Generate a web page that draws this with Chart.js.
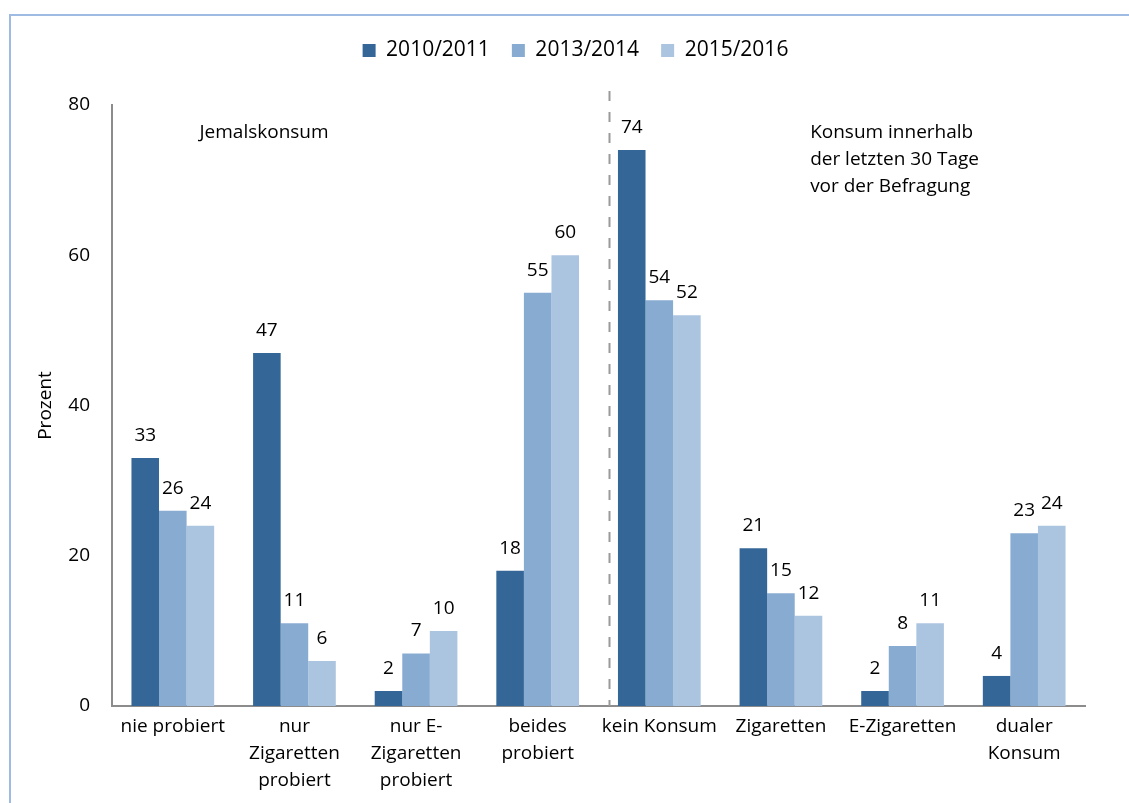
<!DOCTYPE html>
<html>
<head>
<meta charset="utf-8">
<script src="https://cdn.jsdelivr.net/npm/chart.js@4/dist/chart.umd.min.js"></script>
<style>
	html, body { margin: 0; padding: 0; background: #ffffff; }
	#wrap { width: 1129px; height: 803px; position: relative; }
</style>
</head>
<body>
<div id="wrap"><canvas id="Chart_Konsum"></canvas></div>
<script>
const categories = [
	'nie probiert',
	['nur', 'Zigaretten', 'probiert'],
	['nur E-', 'Zigaretten', 'probiert'],
	['beides', 'probiert'],
	'kein Konsum',
	'Zigaretten',
	'E-Zigaretten',
	['dualer', 'Konsum']
];
const series_labels = ['2010/2011', '2013/2014', '2015/2016'];
const values_2010 = [33, 47, 2, 18, 74, 21, 2, 4];
const values_2013 = [26, 11, 7, 55, 54, 15, 8, 23];
const values_2015 = [24, 6, 10, 60, 52, 12, 11, 24];
const y_ticks = [0, 20, 40, 60, 80];
const note_left = ['Jemalskonsum'];
const note_right = ['Konsum innerhalb', 'der letzten 30 Tage', 'vor der Befragung'];

const colors = ['#346797', '#88abd2', '#abc5e0'];
const font_family = '"Open Sans", "Noto Sans", sans-serif';
const font_size = 19;

Chart.defaults.font.family = font_family;
Chart.defaults.font.size = font_size;
Chart.defaults.color = '#000000';

//=============================================================================================================================

// frame round the picture, light blue
const frame_plugin = {
	id: 'frame',
	beforeDraw(chart) {
		const ctx = chart.ctx;
		ctx.save();
		ctx.strokeStyle = '#9fbbe4';
		ctx.lineWidth = 2;
		ctx.strokeRect(10, 15, chart.width + 20, chart.height + 20);
		ctx.restore();
	}
};

// values above bars, dashed separator, notes
const extras_plugin = {
	id: 'extras',
	beforeLayout(chart) {
		// more room under the legend
		const legend = chart.legend;
		if(legend && !legend._padded) {
			const fit = legend.fit;
			legend.fit = function() {
				fit.call(this);
				this.height += 34;
			};
			legend._padded = true;
		}
	},
	afterLayout(chart) {
		// legend sits a bit right of the plot centre
		const legend = chart.legend;
		if(legend) {
			legend.left += 28;
			legend.right += 28;
		}
	},
	afterDatasetsDraw(chart) {
		const ctx = chart.ctx;
		const x = chart.scales.x;
		const y = chart.scales.y;
		ctx.save();

		ctx.font = `${font_size}px ${font_family}`;
		ctx.fillStyle = '#000000';
		ctx.textAlign = 'center';
		ctx.textBaseline = 'bottom';
		chart.data.datasets.forEach(function(ds, ds_idx) {
			const meta = chart.getDatasetMeta(ds_idx);
			meta.data.forEach(function(bar, idx) {
				ctx.fillText(String(ds.data[idx]), bar.x, bar.y - 13);
			});
		});

		// separator between the two groups
		const sep_x = Math.round((x.getPixelForValue(3) + x.getPixelForValue(4)) / 2) + 10.5;
		ctx.strokeStyle = '#9a9a9a';
		ctx.lineWidth = 2;
		ctx.setLineDash([10, 11]);
		ctx.beginPath();
		ctx.moveTo(sep_x, chart.chartArea.top - 14);
		ctx.lineTo(sep_x, chart.chartArea.bottom);
		ctx.stroke();
		ctx.setLineDash([]);

		ctx.textBaseline = 'middle';
		ctx.textAlign = 'center';
		const left_x = x.getPixelForValue(0.75);
		note_left.forEach(function(line, i) {
			ctx.fillText(line, left_x, y.getPixelForValue(76.3) + i * 27);
		});
		ctx.textAlign = 'left';
		const right_x = x.getPixelForValue(5.24);
		note_right.forEach(function(line, i) {
			ctx.fillText(line, right_x, y.getPixelForValue(76.3) + i * 27);
		});

		ctx.restore();
	}
};

//=============================================================================================================================

function init() {

	const chart_ctx = document.getElementById('Chart_Konsum').getContext('2d');

	const chart_data = {
		labels: categories,
		datasets: [{
				label: series_labels[0],
				backgroundColor: colors[0],
				data: values_2010
			}, {
				label: series_labels[1],
				backgroundColor: colors[1],
				data: values_2013
			}, {
				label: series_labels[2],
				backgroundColor: colors[2],
				data: values_2015
			}
		]
	};

	const options = {
		responsive: true,
		maintainAspectRatio: false,
		animation: false,
		layout: {
			padding: { left: 10, right: 44, top: 18, bottom: 0 }
		},
		datasets: {
			bar: { categoryPercentage: 0.68, barPercentage: 1.0 }
		},
		plugins: {
			legend: {
				position: 'top',
				labels: {
					boxWidth: 13,
					boxHeight: 13,
					padding: 22,
					font: { size: 21 }
				}
			},
			tooltip: { enabled: false }
		},
		scales: {
			x: {
				grid: { display: false, drawTicks: false },
				border: { display: true, color: '#8c8c8c', width: 2 },
				ticks: {
					autoSkip: false,
					maxRotation: 0,
					padding: 7,
					font: { size: font_size, lineHeight: 1.42 }
				},
				afterFit: function(scale) { scale.height = 97; }
			},
			y: {
				min: 0,
				max: 80,
				grid: { display: false, drawTicks: false },
				border: { display: true, color: '#8c8c8c', width: 2 },
				afterBuildTicks: function(scale) {
					scale.ticks = y_ticks.map(v => ({ value: v }));
				},
				ticks: {
					padding: 22,
					font: { size: font_size }
				},
				title: {
					display: true,
					text: 'Prozent',
					font: { size: font_size },
					padding: { top: 24, bottom: 0 }
				},
				afterFit: function(scale) { scale.width = 102; }
			}
		}
	};

	const config = {
		type: 'bar',
		data: chart_data,
		options: options,
		plugins: [frame_plugin, extras_plugin]
	};

	return new Chart(chart_ctx, config);
}

init();
</script>
</body>
</html>
